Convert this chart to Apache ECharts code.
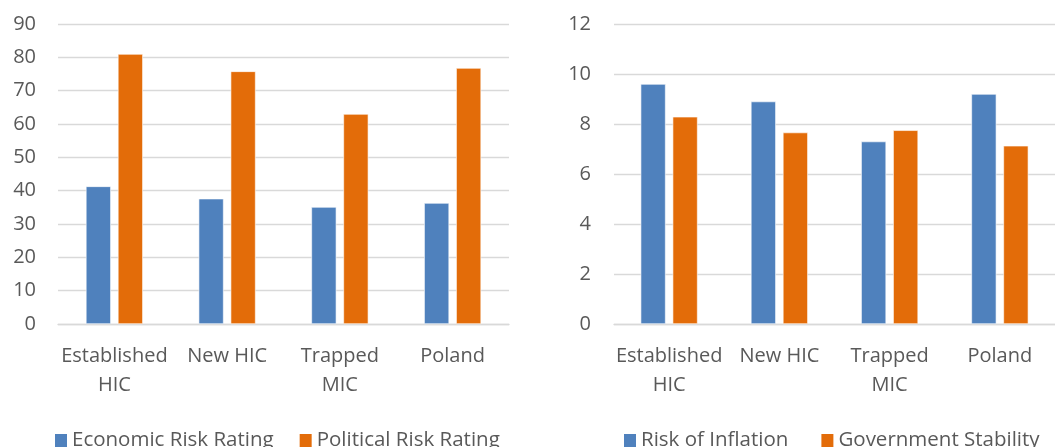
<!DOCTYPE html>
<html>
<head>
<meta charset="utf-8">
<script src="https://cdn.jsdelivr.net/npm/echarts@6/dist/echarts.min.js"></script>
<style>
html, body { margin: 0; padding: 0; background: #fff; }
#chart { width: 1055px; height: 447px; }
</style>
</head>
<body>
<div id="chart"></div>
<script>
// categories shared by both panels
var categories = ['Established\nHIC', 'New HIC', 'Trapped\nMIC', 'Poland']

// left panel
var economicRisk = [41.3, 37.6, 35.1, 36.3]
var politicalRisk = [81, 75.8, 63, 76.8]
// right panel
var riskInflation = [9.6, 8.9, 7.3, 9.2]
var govStability = [8.29, 7.66, 7.75, 7.13]

var textColor = '#595959'
var gridColor = '#d9d9d9'
var fontFam = 'Open Sans'

function xAxisOf(idx) {
    return {
        type: 'category',
        gridIndex: idx,
        data: categories,
        axisTick: {show: false},
        axisLine: {lineStyle: {color: gridColor, width: 1.3}},
        axisLabel: {
            interval: 0,
            color: textColor,
            fontSize: 20,
            fontFamily: fontFam,
            lineHeight: 29,
            margin: 18
        }
    }
}
function yAxisOf(idx, max, step, margin) {
    return {
        type: 'value',
        gridIndex: idx,
        min: 0,
        max: max,
        interval: step,
        axisLine: {show: false},
        axisTick: {show: false},
        splitLine: {lineStyle: {color: gridColor, width: 1.3}},
        axisLabel: {color: textColor, fontSize: 20, fontFamily: fontFam, margin: margin}
    }
}
function barOf(name, data, idx, color) {
    return {
        name: name,
        type: 'bar',
        xAxisIndex: idx,
        yAxisIndex: idx,
        data: data,
        barWidth: 25,
        barGap: '28%',
        itemStyle: {color: color, borderColor: '#ffffff', borderWidth: 0.6},
        emphasis: {disabled: true}
    }
}

var legendText = {color: textColor, fontSize: 20.5, fontFamily: fontFam}

var option = {
    animation: false,
    backgroundColor: '#ffffff',
    grid: [
        {left: 58, right: 546, top: 24, bottom: 123},
        {left: 614, right: 0, top: 24, bottom: 123}
    ],
    xAxis: [xAxisOf(0), xAxisOf(1)],
    yAxis: [yAxisOf(0, 90, 10, 22), yAxisOf(1, 12, 2, 23)],
    legend: [
        {
            left: 50, top: 425,
            icon: 'rect', itemWidth: 12, itemHeight: 13, itemGap: 26, itemStyle: {borderWidth: 0},
            data: ['Economic Risk Rating', 'Political Risk Rating'],
            textStyle: legendText
        },
        {
            left: 619, top: 425,
            icon: 'rect', itemWidth: 12, itemHeight: 13, itemGap: 33, itemStyle: {borderWidth: 0},
            data: ['Risk of Inflation', 'Government Stability'],
            textStyle: legendText
        }
    ],
    series: [
        barOf('Economic Risk Rating', economicRisk, 0, '#4f81bd'),
        barOf('Political Risk Rating', politicalRisk, 0, '#e36c09'),
        barOf('Risk of Inflation', riskInflation, 1, '#4f81bd'),
        barOf('Government Stability', govStability, 1, '#e36c09')
    ]
}

echarts.init(document.getElementById('chart')).setOption(option)
</script>
</body>
</html>
